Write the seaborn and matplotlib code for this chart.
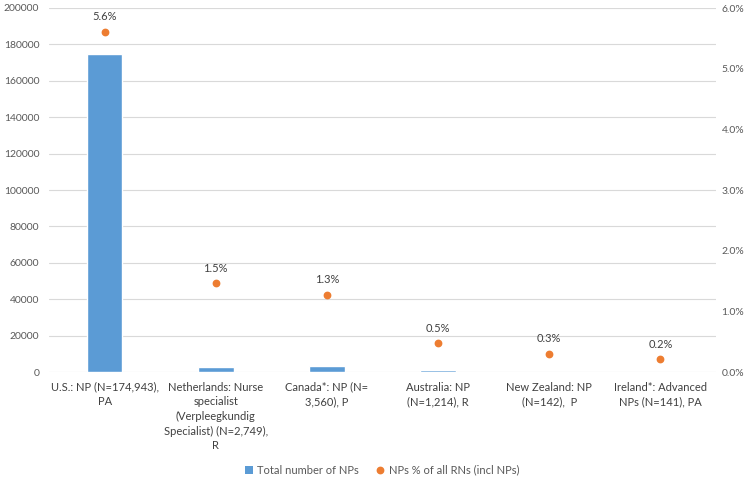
import matplotlib
matplotlib.use("Agg")
import matplotlib.pyplot as plt
import matplotlib.ticker as mticker
from matplotlib.lines import Line2D
from matplotlib.patches import Patch
import seaborn as sns
import pandas as pd

categories = [
    "U.S.: NP (N=174,943),\nPA",
    "Netherlands: Nurse\nspecialist\n(Verpleegkundig\nSpecialist) (N=2,749),\nR",
    "Canada*: NP (N=\n3,560), P",
    "Australia: NP\n(N=1,214), R",
    "New Zealand: NP\n(N=142),  P",
    "Ireland*: Advanced\nNPs (N=141), PA",
]
total_nps = [174943, 2749, 3560, 1214, 142, 141]
pct_rns = [0.0561, 0.0146, 0.0127, 0.0047, 0.0030, 0.0021]
pct_labels = ["5.6%", "1.5%", "1.3%", "0.5%", "0.3%", "0.2%"]

sns.set_theme(style="white")
plt.rcParams["font.family"] = ["Lato", "DejaVu Sans"]

TXT = "#595959"
BLUE = "#5b9bd5"
ORANGE = "#ed7d31"

df = pd.DataFrame({"cat": categories, "total": total_nps, "pct": pct_rns})

fig = plt.figure(figsize=(7.52, 4.82), dpi=100)
ax = fig.add_axes([49/752, 1-372/482, 667/752, 364/482])

sns.barplot(data=df, x="cat", y="total", color=BLUE, width=0.32,
            saturation=1, ax=ax, zorder=3)
ax.set_ylim(0, 200000)
ax.set_yticks(range(0, 200001, 20000))
ax.yaxis.grid(True, color="#d9d9d9", linewidth=0.8)
ax.set_axisbelow(True)
for s in ax.spines.values():
    s.set_visible(False)
ax.set_xlabel("")
ax.set_ylabel("")
ax.tick_params(axis="y", length=0, labelsize=7.5, colors=TXT, pad=7)
ax.tick_params(axis="x", length=0, labelsize=8, pad=7, colors="#404040")
for lbl in ax.get_xticklabels():
    lbl.set_linespacing(1.4)

ax2 = ax.twinx()
ax2.set_ylim(0, 0.06)
ax2.plot(range(len(df)), df["pct"], linestyle="none", marker="o",
         markersize=4.6, color=ORANGE, zorder=4)
ax2.set_yticks([i / 100 for i in range(0, 7)])
ax2.yaxis.set_major_formatter(mticker.FuncFormatter(lambda v, p: f"{v*100:.1f}%"))
ax2.tick_params(axis="y", length=0, labelsize=7.5, colors=TXT, pad=4)
for s in ax2.spines.values():
    s.set_visible(False)
ax2.set_ylabel("")
ax2.grid(False)
for i, (v, t) in enumerate(zip(pct_rns, pct_labels)):
    ax2.annotate(t, (i, v), xytext=(0, 7), textcoords="offset points",
                 ha="center", va="bottom", fontsize=8, color="#404040")
ax.set_xlim(-0.5, len(df) - 0.5)

handles = [Patch(facecolor=BLUE, edgecolor="none"),
           Line2D([], [], linestyle="none", marker="o", markersize=4.6, color=ORANGE)]
fig.legend(handles, ["Total number of NPs", "NPs % of all RNs (incl NPs)"],
           loc="center", bbox_to_anchor=(0.508, 1-470/482), ncol=2, frameon=False,
           fontsize=8, labelcolor=TXT, handlelength=0.7, handleheight=0.7,
           handletextpad=0.4, columnspacing=1.6)

fig.savefig("out.png", dpi=100)
